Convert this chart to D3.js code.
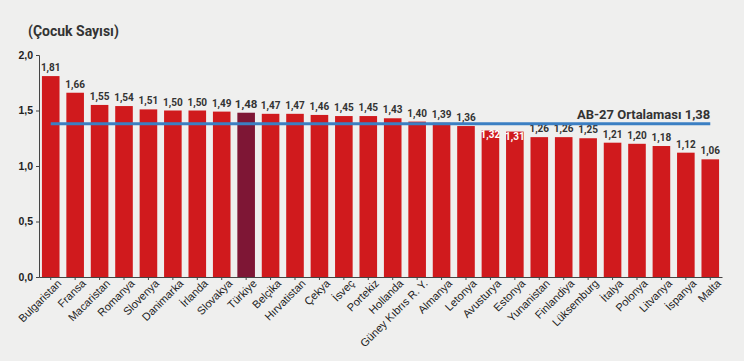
<!DOCTYPE html>
<html>
<head>
<meta charset="utf-8">
<script src="https://cdn.jsdelivr.net/npm/d3@7"></script>
<style>
  body { margin: 0; background: #efefee; }
  svg { display: block; font-family: Roboto, "Noto Sans", sans-serif; }
</style>
</head>
<body>
<div id="chart"></div>
<script>
// data
var countries = ["Bulgaristan", "Fransa", "Macaristan", "Romanya", "Slovenya", "Danimarka", "İrlanda",
  "Slovakya", "Türkiye", "Belçika", "Hırvatistan", "Çekya", "İsveç", "Portekiz", "Hollanda",
  "Güney Kıbrıs R. Y.", "Almanya", "Letonya", "Avusturya", "Estonya", "Yunanistan", "Finlandiya",
  "Lüksemburg", "İtalya", "Polonya", "Litvanya", "İspanya", "Malta"];
var values = [1.81, 1.66, 1.55, 1.54, 1.51, 1.50, 1.50, 1.49, 1.48, 1.47, 1.47, 1.46, 1.45, 1.45, 1.43,
  1.40, 1.39, 1.36, 1.32, 1.31, 1.26, 1.26, 1.25, 1.21, 1.20, 1.18, 1.12, 1.06];
var yTicks = [0, 0.5, 1.0, 1.5, 2.0];
var average = 1.38;
var averageLabel = "AB-27 Ortalaması 1,38";
var highlight = "Türkiye";
var insideLabels = ["Avusturya", "Estonya"]; // labels drawn inside bar (line crosses them)

var data = countries.map(function(c, i) { return {name: c, value: values[i]}; });

var width = 744, height = 361;
var margin = {top: 55, right: 22, bottom: 84, left: 39};

var svg = d3.select("#chart")
  .append("svg")
    .attr("width", width)
    .attr("height", height);

var fmt = function(v) { return d3.format(".2f")(v).replace(".", ","); };

var x = d3.scaleBand()
  .domain(countries)
  .range([margin.left, width - margin.right])
  .paddingInner(0.28)
  .paddingOuter(0.12);

var y = d3.scaleLinear()
  .domain([0, 2])
  .range([height - margin.bottom, margin.top]);

// title
svg.append("text")
  .attr("x", 28)
  .attr("y", 36)
  .attr("fill", "#333")
  .style("font-size", "14px")
  .style("font-weight", "bold")
  .text("(Çocuk Sayısı)");

// bars
svg.append("g")
  .selectAll("rect")
  .data(data)
  .enter()
  .append("rect")
    .attr("x", function(d) { return x(d.name); })
    .attr("y", function(d) { return y(d.value); })
    .attr("width", x.bandwidth())
    .attr("height", function(d) { return y(0) - y(d.value); })
    .attr("fill", function(d) { return d.name === highlight ? "#7e1635" : "#d01a1d"; });

// value labels
svg.append("g")
  .selectAll("text")
  .data(data)
  .enter()
  .append("text")
    .attr("x", function(d) { return x(d.name) + x.bandwidth() / 2; })
    .attr("y", function(d) {
      return insideLabels.indexOf(d.name) >= 0 ? y(d.value) + 8 : y(d.value) - 5;
    })
    .attr("text-anchor", "middle")
    .attr("fill", function(d) { return insideLabels.indexOf(d.name) >= 0 ? "#fff" : "#333"; })
    .style("font-size", function(d) { return d.name === highlight ? "11.5px" : "10px"; })
    .style("font-weight", "bold")
    .text(function(d) { return fmt(d.value); });

// average line
svg.append("line")
  .attr("x1", x(countries[0]) + x.bandwidth() / 2)
  .attr("x2", x(countries[countries.length - 1]) + x.bandwidth() / 2)
  .attr("y1", y(average))
  .attr("y2", y(average))
  .attr("stroke", "#3b7fc3")
  .attr("stroke-width", 3);

svg.append("text")
  .attr("x", x(countries[countries.length - 1]) + x.bandwidth() / 2)
  .attr("y", y(average) - 5)
  .attr("text-anchor", "end")
  .attr("fill", "#333")
  .style("font-size", "13px")
  .style("font-weight", "bold")
  .text(averageLabel);

// Y axis
var yAxis = svg.append("g")
  .attr("transform", "translate(" + margin.left + ",0)")
  .call(d3.axisLeft(y).tickValues(yTicks).tickSize(3).tickFormat(function(d) { return d3.format(".1f")(d).replace(".", ","); }));
yAxis.selectAll("text")
  .attr("fill", "#222")
  .style("font-size", "10.5px")
  .style("font-weight", "bold");
yAxis.selectAll("line, path").attr("stroke", "#444");

// X axis
var xAxis = svg.append("g")
  .attr("transform", "translate(0," + y(0) + ")")
  .call(d3.axisBottom(x).tickSize(3).tickSizeOuter(0));
xAxis.select(".domain").attr("stroke", "#444");
xAxis.selectAll("line").attr("stroke", "#444");
xAxis.selectAll("text")
  .attr("fill", "#222")
  .style("font-size", "11px")
  .style("font-weight", "500")
  .attr("text-anchor", "end")
  .attr("dx", "3")
  .attr("dy", "7")
  .attr("transform", "rotate(-45)");
</script>
</body>
</html>
